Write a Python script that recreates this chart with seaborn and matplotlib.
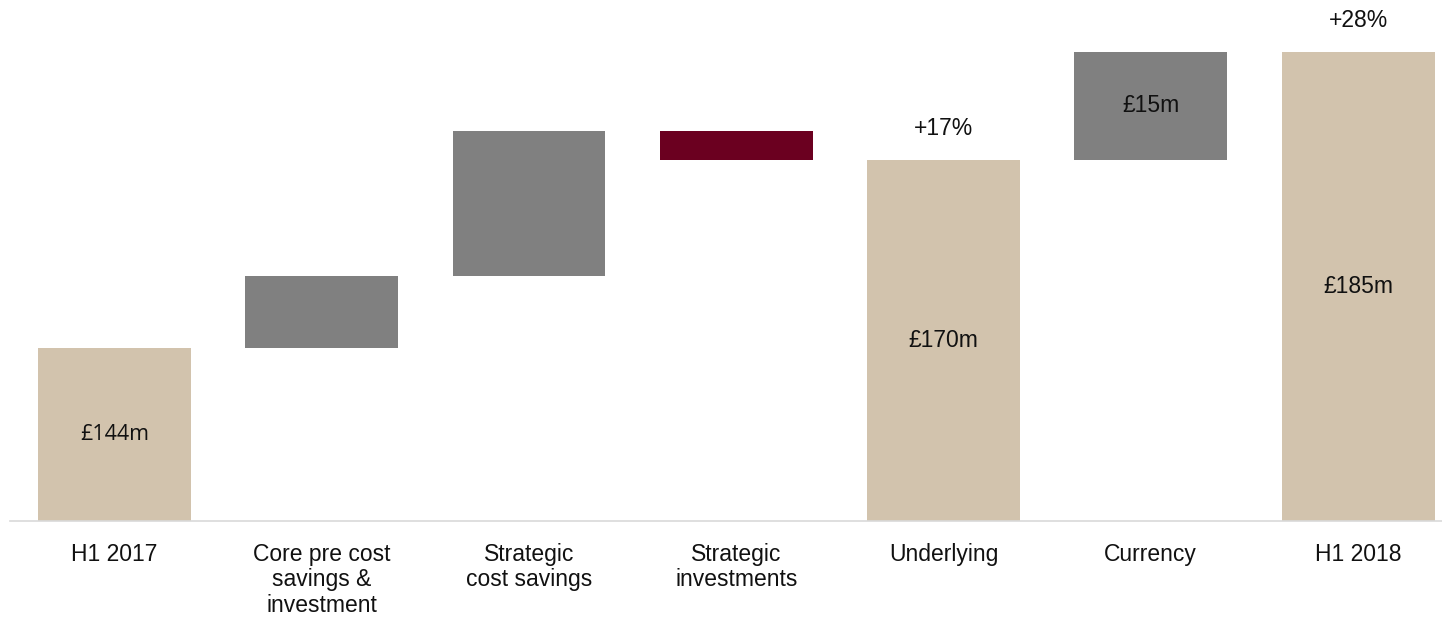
import numpy as np
import pandas as pd
import matplotlib
matplotlib.use("Agg")
import matplotlib.pyplot as plt
import seaborn as sns

# Bridge from H1 2017 to H1 2018 (in £m)
categories = ["H1 2017", "Core pre cost\nsavings &\ninvestment", "Strategic\ncost savings",
              "Strategic\ninvestments", "Underlying", "Currency", "H1 2018"]
steps = [144, 10, 20, -4, 170, 15, 185]
kinds = ["total", "delta", "delta", "delta", "total", "delta", "total"]
value_labels = ["£144m", "", "", "", "£170m", "£15m", "£185m"]
growth_labels = ["", "", "", "", "+17%", "", "+28%"]

AXIS_MIN = 120

# Work out the floor and ceiling of each bar of the waterfall
bottoms, tops = [], []
running = 0
for step, kind in zip(steps, kinds):
    if kind == "total":
        running = step
        bottoms.append(AXIS_MIN)
        tops.append(step)
    else:
        lo, hi = sorted([running, running + step])
        bottoms.append(lo)
        tops.append(hi)
        running += step

df = pd.DataFrame({
    "category": categories,
    "bottom": bottoms,
    "height": np.array(tops) - np.array(bottoms),
})

TAN, GREY, MAROON = "#D2C3AD", "#808080", "#6B0020"
colors = []
for step, kind in zip(steps, kinds):
    if kind == "total":
        colors.append(TAN)
    elif step >= 0:
        colors.append(GREY)
    else:
        colors.append(MAROON)

sns.set_theme(style="white")
plt.rcParams["font.family"] = ["Liberation Sans", "DejaVu Sans"]

FS = 16.5

fig = plt.figure(figsize=(14.42, 6.18), dpi=100)
ax = fig.add_axes([10 / 1442, 1 - 521 / 618, 1 - 10 / 1442, 521 / 618])

sns.barplot(data=df, x="category", y="height", bottom=df["bottom"].to_numpy(),
            order=categories, width=0.738, color=GREY, linewidth=0, ax=ax)

for patch, c in zip(ax.patches, colors):
    patch.set_facecolor(c)
    patch.set_edgecolor(c)

ax.set_ylim(AXIS_MIN, AXIS_MIN + 521 * 0.1385)
ax.set_xlim(-0.504, 6.405)

for i, (lab, b, t) in enumerate(zip(value_labels, bottoms, tops)):
    if lab:
        if i == 0:
            fam, size = ["Open Sans", "DejaVu Sans"], 15.5
        else:
            fam, size = ["Liberation Sans", "DejaVu Sans"], FS
        ax.text(i, (b + t) / 2, lab, ha="center", va="center", fontsize=size,
                color="#111111", family=fam)

for i, (lab, t) in enumerate(zip(growth_labels, tops)):
    if lab:
        ax.annotate(lab, xy=(i, t), xytext=(0, 22.5), textcoords="offset points",
                    ha="center", va="center", fontsize=FS, color="#111111",
                    annotation_clip=False)

ax.set_xlabel("")
ax.set_ylabel("")
ax.set_yticks([])
ax.tick_params(axis="x", length=0, pad=15.5, labelsize=FS, labelcolor="#111111")
for lbl in ax.get_xticklabels():
    lbl.set_linespacing(1.15)
for side in ["top", "right", "left"]:
    ax.spines[side].set_visible(False)
ax.spines["bottom"].set_color("#D9D9D9")
ax.spines["bottom"].set_linewidth(1.2)

fig.savefig("out.png", dpi=100)
